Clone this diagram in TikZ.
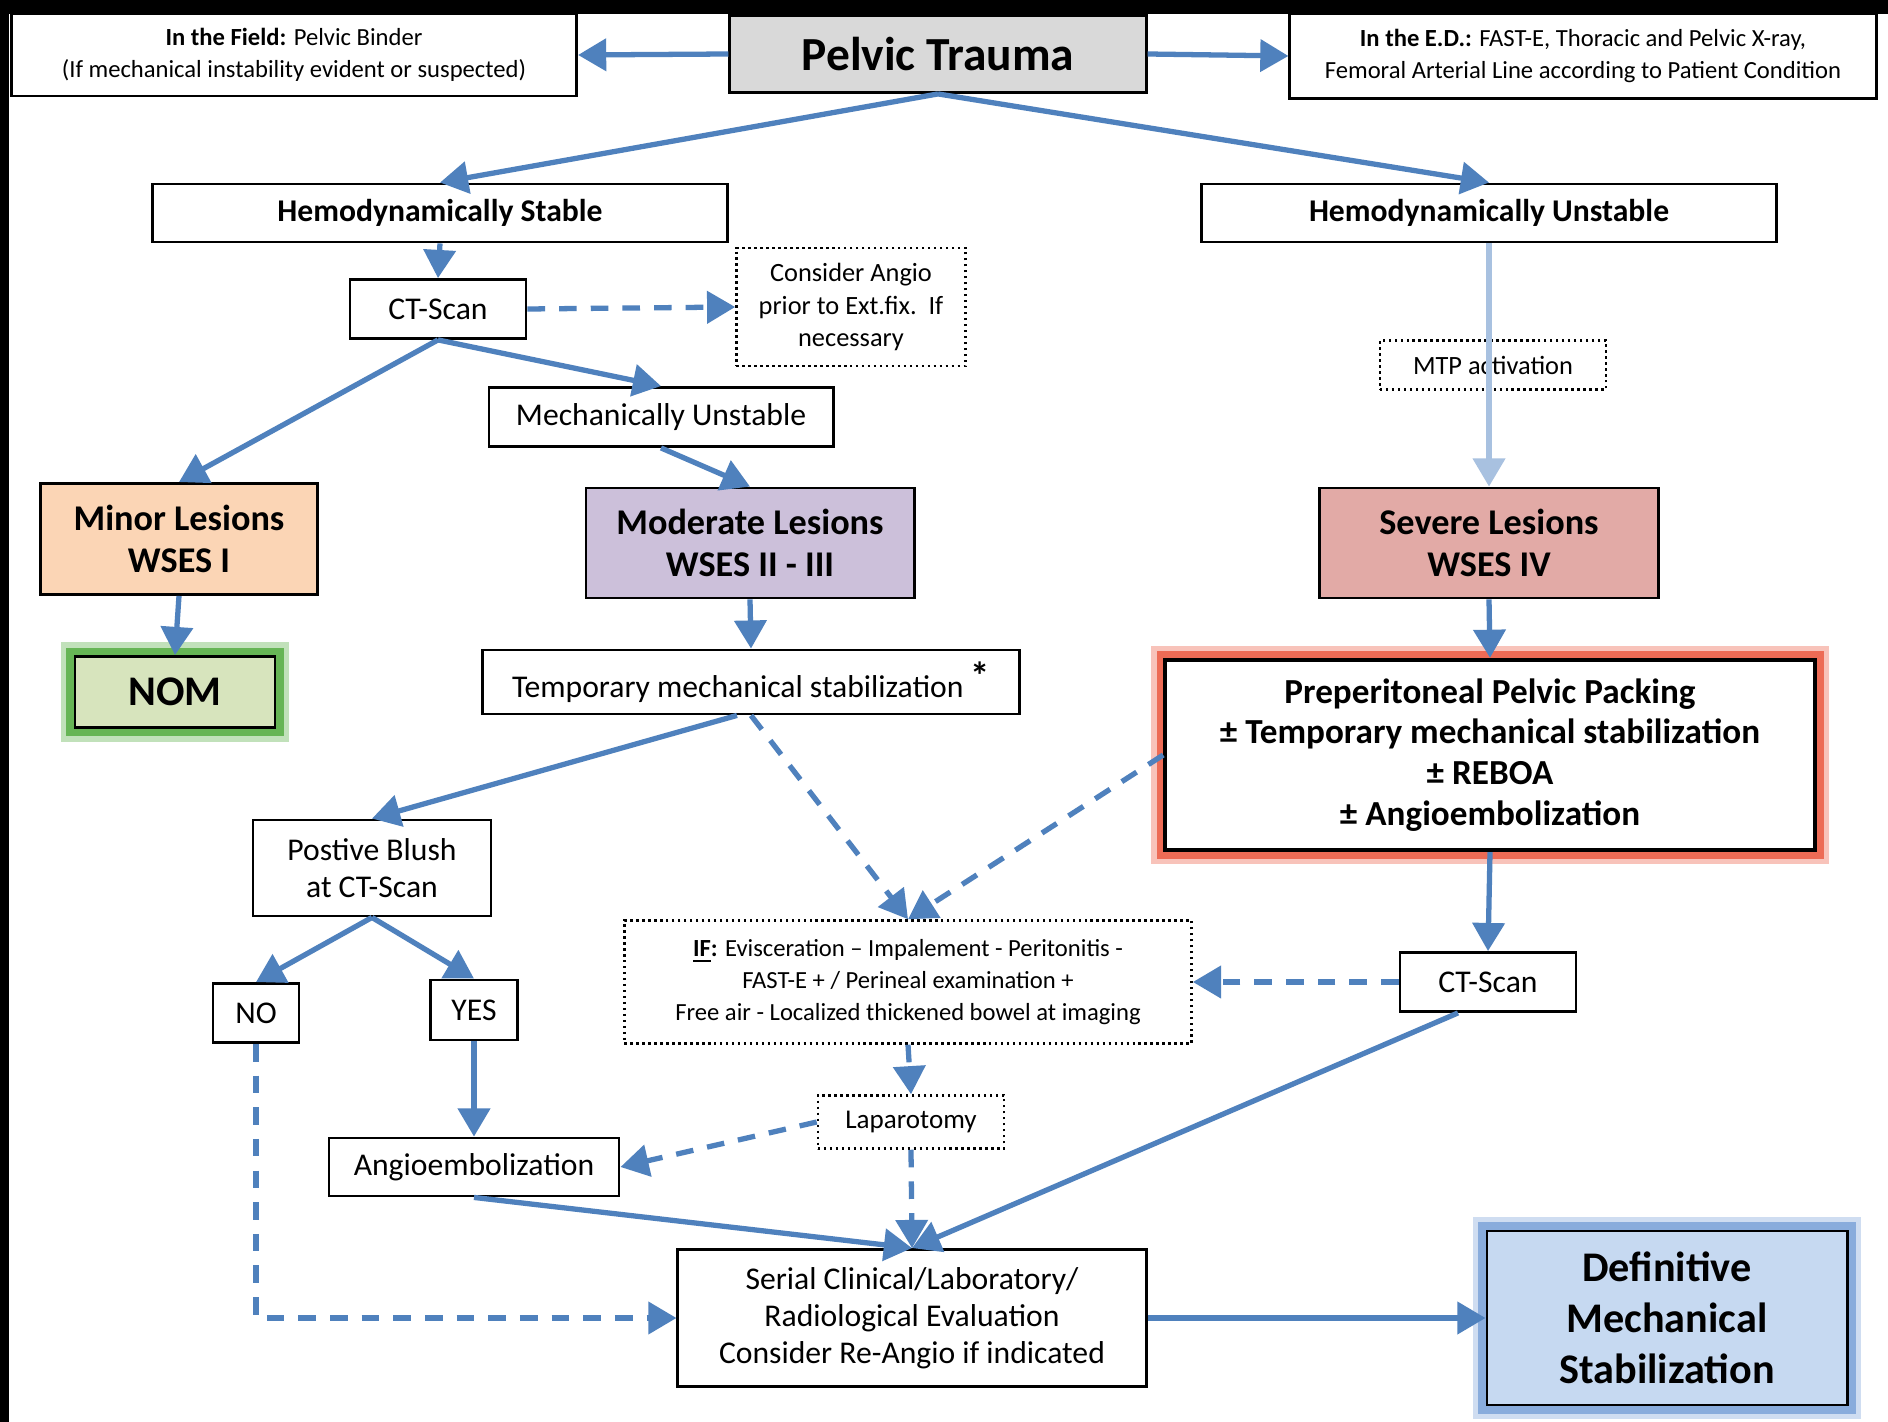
\documentclass[tikz,border=0pt]{standalone}
\usepackage{fontspec}
\setmainfont{Carlito}
\usetikzlibrary{arrows.meta}
\definecolor{flowblue}{RGB}{79,129,189}
\definecolor{paleblue}{RGB}{168,193,224}
\definecolor{boxgray}{RGB}{217,217,217}
\definecolor{minorfill}{RGB}{251,213,181}
\definecolor{nomfill}{RGB}{215,228,189}
\definecolor{nomglow}{RGB}{80,170,60}
\definecolor{modfill}{RGB}{204,192,218}
\definecolor{sevfill}{RGB}{226,170,166}
\definecolor{prepglow}{RGB}{235,85,60}
\definecolor{deffill}{RGB}{198,217,241}
\definecolor{defglow}{RGB}{120,160,215}
\newcommand{\sz}[2]{\fontsize{#1}{#2}\selectfont}

\begin{document}
\begin{tikzpicture}[x=0.01cm,y=-0.01cm,
  box/.style={draw=black, line width=0.8pt, fill=white, align=center, inner sep=0pt},
  dotbox/.style={draw=black, line width=0.7pt, densely dotted, align=center, inner sep=0pt},
  arr/.style={draw=flowblue, line width=1.5pt, -{Triangle[length=8pt,width=9pt]}},
  darr/.style={arr, dash pattern=on 5pt off 4pt},
  glow/.style={preaction={draw=#1, line width=8pt, opacity=0.35, rounded corners=3pt},
               preaction={draw=#1, line width=5pt, opacity=0.8, rounded corners=1.5pt}},
  small/.style={font=\sz{7}{9.2}},
  plain/.style={font=\sz{9}{10.6}},
  heavy/.style={font=\bfseries\sz{10.3}{12}}]
  \useasboundingbox (0,0) rectangle (1888,1422);
  \fill[white] (0,0) rectangle (1888,1422);
  \fill[black] (0,0) rectangle (1888,14);
  \fill[black] (0,0) rectangle (9,1422);

  % top row
  \node[box, small, minimum width=5.65cm, minimum height=0.82cm] (field) at (294,55)
    {\textbf{In the Field:} Pelvic Binder\\(If mechanical instability evident or suspected)};
  \node[box, fill=boxgray, font=\bfseries\sz{13.5}{16}, minimum width=4.16cm, minimum height=0.77cm] (pelvic) at (938,54) {Pelvic Trauma};
  \node[box, small, minimum width=5.86cm, minimum height=0.85cm] (ed) at (1583,56)
    {\textbf{In the E.D.:} FAST-E, Thoracic and Pelvic X-ray,\\Femoral Arterial Line according to Patient Condition};

  \node[box, font=\bfseries\sz{9}{11}, minimum width=5.75cm, minimum height=0.58cm] (stable) at (440,213) {Hemodynamically Stable};
  \node[box, font=\bfseries\sz{9}{11}, minimum width=5.75cm, minimum height=0.58cm] (unstable) at (1489,213) {Hemodynamically Unstable};

  % left branch
  \node[box, plain, minimum width=1.76cm, minimum height=0.59cm] (ct) at (438,309) {CT-Scan};
  \node[dotbox, font=\sz{7.5}{9.2}, minimum width=2.29cm, minimum height=1.18cm] (consider) at (851,307)
    {Consider Angio\\prior to Ext.fix.\ \ If\\necessary};
  \node[box, plain, minimum width=3.44cm, minimum height=0.59cm] (mech) at (661,417) {Mechanically Unstable};
  \node[box, heavy, fill=minorfill, minimum width=2.77cm, minimum height=1.11cm] (minor) at (179,539) {Minor Lesions\\WSES I};
  \node[box, glow=nomglow, fill=nomfill, font=\bfseries\sz{12}{14}, minimum width=2.0cm, minimum height=0.71cm] (nom) at (175,692) {NOM};
  \node[box, heavy, fill=modfill, minimum width=3.28cm, minimum height=1.10cm] (moderate) at (750,543) {Moderate Lesions\\WSES II - III};
  \node[box, plain, minimum width=5.36cm, minimum height=0.64cm] (temp) at (751,682) {Temporary mechanical stabilization \raisebox{0.5ex}{\textbf{\sz{11}{11}*}}};
  \node[box, plain, minimum width=2.38cm, minimum height=0.96cm] (blush) at (372,868) {Postive Blush\\at CT-Scan};
  \node[box, plain, minimum width=0.86cm, minimum height=0.59cm] (no) at (256,1013) {NO};
  \node[box, plain, minimum width=0.87cm, minimum height=0.60cm] (yes) at (474,1010) {YES};
  \node[box, plain, minimum width=2.90cm, minimum height=0.58cm] (angio) at (474,1167) {Angioembolization};

  % right branch
  \node[dotbox, font=\sz{7.5}{9.2}, minimum width=2.26cm, minimum height=0.49cm] (mtp) at (1493,365) {MTP activation};
  \node[box, heavy, fill=sevfill, minimum width=3.39cm, minimum height=1.10cm] (severe) at (1489,543) {Severe Lesions\\WSES IV};
  \node[box, glow=prepglow, line width=1.2pt, font=\bfseries\sz{10}{11.6}, minimum width=6.49cm, minimum height=1.90cm] (prep) at (1490,755)
    {Preperitoneal Pelvic Packing\\± Temporary mechanical stabilization\\± REBOA\\± Angioembolization};
  \node[box, plain, minimum width=1.76cm, minimum height=0.59cm] (ct2) at (1488,982) {CT-Scan};

  % centre and bottom
  \node[dotbox, small, minimum width=5.67cm, minimum height=1.23cm] (ifbox) at (908,982)
    {\textbf{\underline{IF}:} Evisceration – Impalement - Peritonitis -\\FAST-E + / Perineal examination +\\Free air - Localized thickened bowel at imaging};
  \node[dotbox, font=\sz{7.7}{9.2}, minimum width=1.86cm, minimum height=0.53cm] (lap) at (911,1122) {Laparotomy};
  \node[box, plain, minimum width=4.68cm, minimum height=1.37cm] (serial) at (912,1318)
    {Serial Clinical/Laboratory/\\Radiological Evaluation\\Consider Re-Angio if indicated};
  \node[box, glow=defglow, fill=deffill, font=\bfseries\sz{12}{14.5}, minimum width=3.60cm, minimum height=1.74cm] (def) at (1667,1318)
    {Definitive\\Mechanical\\Stabilization};

  % connectors
  \draw[arr] (pelvic.west) -- (field.east);
  \draw[arr] (pelvic.east) -- (ed.west);
  \draw[arr] (pelvic.south) -- (stable.north);
  \draw[arr] (pelvic.south) -- (unstable.north);
  \draw[arr] (stable.south) -- (ct.north);
  \draw[darr] (ct.east) -- (consider.west);
  \draw[arr] (ct.south) -- (minor.north);
  \draw[arr] (ct.south) -- (mech.north);
  \draw[arr] (mech.south) -- (moderate.north);
  \draw[arr] (minor.south) -- (nom.north);
  \draw[arr] (moderate.south) -- (temp.north);
  \draw[arr] ([xshift=-0.14cm]temp.south) -- (blush.north);
  \draw[darr] (temp.south) -- (ifbox.north);
  \draw[darr] (prep.west) -- (ifbox.north);
  \draw[arr] (blush.south) -- (no.north);
  \draw[arr] (blush.south) -- (yes.north);
  \draw[arr] (yes.south) -- (angio.north);
  \draw[arr, draw=paleblue] (unstable.south) -- (severe.north);
  \draw[arr] (severe.south) -- (prep.north);
  \draw[arr] (prep.south) -- (ct2.north);
  \draw[darr] (ct2.west) -- (ifbox.east);
  \draw[darr] (ifbox.south) -- (lap.north);
  \draw[darr] (lap.west) -- (angio.east);
  \draw[darr] (lap.south) -- (serial.north);
  \draw[arr] (angio.south) -- (serial.north);
  \draw[arr] ([xshift=-0.3cm]ct2.south) -- (serial.north);
  \draw[darr] (no.south) |- (serial.west);
  \draw[arr] (serial.east) -- (def.west);
\end{tikzpicture}
\end{document}
